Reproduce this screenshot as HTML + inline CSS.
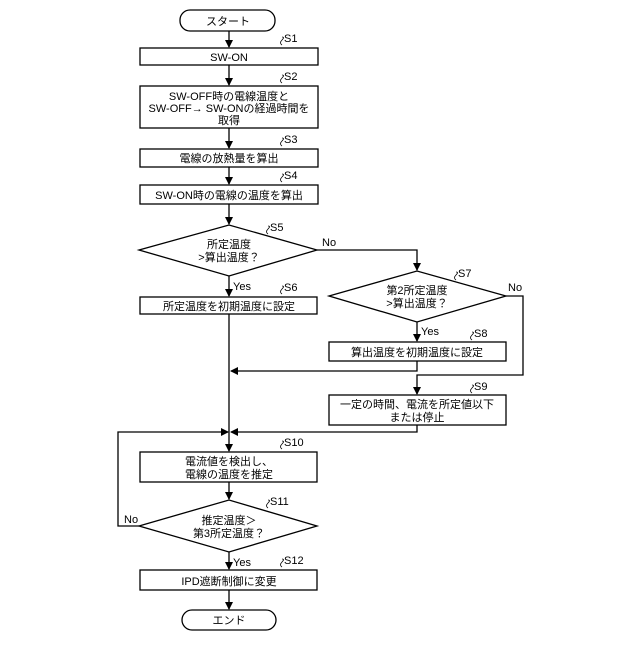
<!DOCTYPE html><html><head><meta charset="utf-8"><style>body{margin:0;background:#fff}svg text{font-family:"Liberation Sans","Noto Sans CJK JP",sans-serif;font-size:11px;fill:#000}</style></head><body>
<svg width="640" height="640" viewBox="0 0 640 640" xmlns="http://www.w3.org/2000/svg">
<defs><marker id="a" markerWidth="8" markerHeight="8" refX="7" refY="4" orient="auto" markerUnits="userSpaceOnUse"><path d="M0,0 L8,4 L0,8 Z" fill="#000"/></marker></defs>
<g fill="none" stroke="#000" stroke-width="1.3">
<rect x="180" y="10" width="95" height="21" rx="10"/>
<rect x="140" y="48" width="178" height="17"/>
<rect x="140" y="86" width="178" height="42"/>
<rect x="140" y="149" width="178" height="18"/>
<rect x="140" y="185" width="178" height="19"/>
<path d="M139,250 L229,225 L317,250 L229,276 Z"/>
<rect x="140" y="297" width="177" height="17"/>
<path d="M329,296 L417,271 L506,296 L417,322 Z"/>
<rect x="329" y="342" width="177" height="19"/>
<rect x="329" y="395" width="177" height="30"/>
<rect x="140" y="452" width="177" height="30"/>
<path d="M139,526 L229,500 L317,526 L229,552 Z"/>
<rect x="140" y="570" width="177" height="20"/>
<rect x="182" y="610" width="94" height="20" rx="10"/>
<path d="M229,31V47" marker-end="url(#a)"/>
<path d="M229,65V85" marker-end="url(#a)"/>
<path d="M229,128V148" marker-end="url(#a)"/>
<path d="M229,167V184" marker-end="url(#a)"/>
<path d="M229,204V224" marker-end="url(#a)"/>
<path d="M229,276V296" marker-end="url(#a)"/>
<path d="M317,250H417V270" marker-end="url(#a)"/>
<path d="M417,322V341" marker-end="url(#a)"/>
<path d="M417,361V371H231" marker-end="url(#a)"/>
<path d="M506,296H523V375H417V394" marker-end="url(#a)"/>
<path d="M417,425V432H231" marker-end="url(#a)"/>
<path d="M229,314V451" marker-end="url(#a)"/>
<path d="M139,526H118V432H228" marker-end="url(#a)"/>
<path d="M229,482V499" marker-end="url(#a)"/>
<path d="M229,552V569" marker-end="url(#a)"/>
<path d="M229,590V609" marker-end="url(#a)"/>
</g>
<g font-size="9" stroke="#000" fill="none" stroke-width="0.8">
<path d="M282,45q-3,-2 0,-5q3,-3 0,-3"/><path d="M282,83q-3,-2 0,-5q3,-3 0,-3"/><path d="M282,146q-3,-2 0,-5q3,-3 0,-3"/><path d="M282,182q-3,-2 0,-5q3,-3 0,-3"/><path d="M268,234q-3,-2 0,-5q3,-3 0,-3"/><path d="M282,294q-3,-2 0,-5q3,-3 0,-3"/><path d="M456,280q-3,-2 0,-5q3,-3 0,-3"/><path d="M472,340q-3,-2 0,-5q3,-3 0,-3"/><path d="M472,393q-3,-2 0,-5q3,-3 0,-3"/><path d="M282,449q-3,-2 0,-5q3,-3 0,-3"/><path d="M268,508q-3,-2 0,-5q3,-3 0,-3"/><path d="M282,567q-3,-2 0,-5q3,-3 0,-3"/>
</g>
<g font-size="10">
<text x="284" y="42">S1</text><text x="284" y="80">S2</text><text x="284" y="143">S3</text><text x="284" y="179">S4</text><text x="270" y="231">S5</text><text x="284" y="291">S6</text><text x="458" y="277">S7</text><text x="474" y="337">S8</text><text x="474" y="390">S9</text><text x="284" y="446">S10</text><text x="270" y="505">S11</text><text x="284" y="564">S12</text>
<text x="322" y="246">No</text><text x="233" y="290">Yes</text><text x="508" y="291">No</text><text x="421" y="335">Yes</text><text x="124" y="523">No</text><text x="233" y="566">Yes</text>
</g>
<g text-anchor="middle">
<text x="228" y="25">スタート</text>
<text x="229" y="61">SW-ON</text>
<text x="229" y="100">SW-OFF時の電線温度と</text>
<text x="229" y="112">SW-OFF→ SW-ONの経過時間を</text>
<text x="229" y="124">取得</text>
<text x="229" y="162">電線の放熱量を算出</text>
<text x="229" y="199">SW-ON時の電線の温度を算出</text>
<text x="229" y="248">所定温度</text><text x="229" y="261">&gt;算出温度？</text>
<text x="229" y="310">所定温度を初期温度に設定</text>
<text x="417" y="294">第2所定温度</text><text x="417" y="307">&gt;算出温度？</text>
<text x="417" y="356">算出温度を初期温度に設定</text>
<text x="417" y="408">一定の時間、電流を所定値以下</text><text x="417" y="421">または停止</text>
<text x="229" y="465">電流値を検出し、</text><text x="229" y="478">電線の温度を推定</text>
<text x="229" y="524">推定温度＞</text><text x="229" y="537">第3所定温度？</text>
<text x="229" y="585">IPD遮断制御に変更</text>
<text x="229" y="624">エンド</text>
</g>
</svg></body></html>
